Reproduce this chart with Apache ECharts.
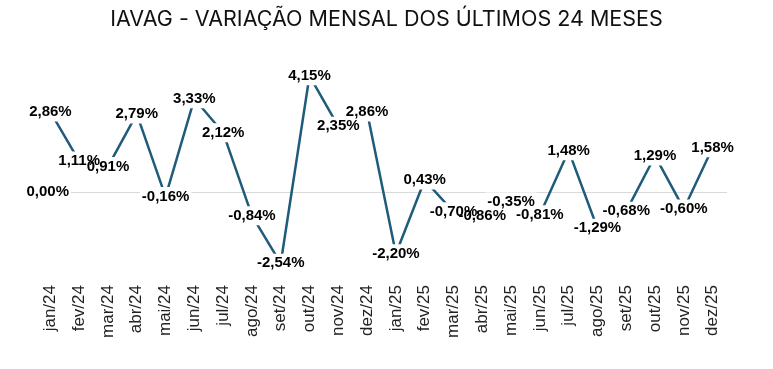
<!DOCTYPE html>
<html>
<head>
<meta charset="utf-8">
<script src="https://cdn.jsdelivr.net/npm/echarts@6/dist/echarts.min.js"></script>
<style>
html,body{margin:0;padding:0;background:#fff;}
#chart{width:773px;height:369px;}
</style>
</head>
<body>
<div id="chart"></div>
<script>
const titleText = 'IAVAG - VARIAÇÃO MENSAL DOS ÚLTIMOS 24 MESES';
const categories = ['jan/24','fev/24','mar/24','abr/24','mai/24','jun/24','jul/24','ago/24','set/24','out/24','nov/24','dez/24',
                    'jan/25','fev/25','mar/25','abr/25','mai/25','jun/25','jul/25','ago/25','set/25','out/25','nov/25','dez/25'];
const values = [2.86,1.11,0.91,2.79,-0.16,3.33,2.12,-0.84,-2.54,4.15,2.35,2.86,
                -2.20,0.43,-0.70,-0.86,-0.35,-0.81,1.48,-1.29,-0.68,1.29,-0.60,1.58];
const zeroLine = 0;

const fmt = v => v.toFixed(2).replace('.', ',') + '%';
const labelFont = {fontFamily: 'Liberation Sans', fontWeight: 'bold', fontSize: 15, padding: [2, 2]};

const chart = echarts.init(document.getElementById('chart'), null, {renderer:'canvas'});
chart.setOption({
  animation: false,
  backgroundColor: '#ffffff',
  title: {
    text: titleText,
    left: 'center',
    top: 4,
    textStyle: {fontFamily: 'Inter', fontSize: 21.5, fontWeight: 'normal', color: '#111111'}
  },
  grid: {left: 36, right: 46, top: 66, bottom: 90, containLabel: false},
  xAxis: {
    type: 'category',
    data: categories,
    boundaryGap: true,
    axisLine: {show: false},
    axisTick: {show: false},
    axisLabel: {rotate: 90, margin: 6, fontFamily: 'Liberation Sans', fontSize: 17, color: '#222222', interval: 0}
  },
  yAxis: {
    type: 'value',
    min: -3.1,
    max: 4.5,
    axisLine: {show: false},
    axisTick: {show: false},
    axisLabel: {show: false},
    splitLine: {show: false}
  },
  series: [{
    name: 'IAVAG',
    type: 'line',
    z: 2,
    data: values,
    symbol: 'circle',
    symbolSize: 0.1,
    showSymbol: true,
    lineStyle: {color: '#1f5b7a', width: 2.5},
    itemStyle: {color: '#1f5b7a'},
    label: Object.assign({
      show: true,
      position: 'inside',
      formatter: p => fmt(p.value),
      color: 'rgba(0,0,0,0)',
      backgroundColor: '#ffffff'
    }, labelFont),
    markLine: {
      silent: true,
      symbol: ['none', 'none'],
      z: 1,
      lineStyle: {color: '#d9d9d9', width: 1, type: 'solid'},
      label: Object.assign({
        show: true,
        position: 'start',
        distance: 0,
        offset: [35, 0],
        formatter: () => fmt(zeroLine),
        color: '#000000',
        backgroundColor: '#ffffff'
      }, labelFont),
      data: [{yAxis: zeroLine}]
    }
  }, {
    name: 'IAVAG-labels',
    type: 'line',
    z: 5,
    data: values,
    symbol: 'circle',
    symbolSize: 0.1,
    showSymbol: true,
    lineStyle: {color: 'rgba(0,0,0,0)', width: 0},
    itemStyle: {color: 'rgba(0,0,0,0)'},
    silent: true,
    label: Object.assign({
      show: true,
      position: 'inside',
      formatter: p => fmt(p.value),
      color: '#000000'
    }, labelFont)
  }]
});
</script>
</body>
</html>
